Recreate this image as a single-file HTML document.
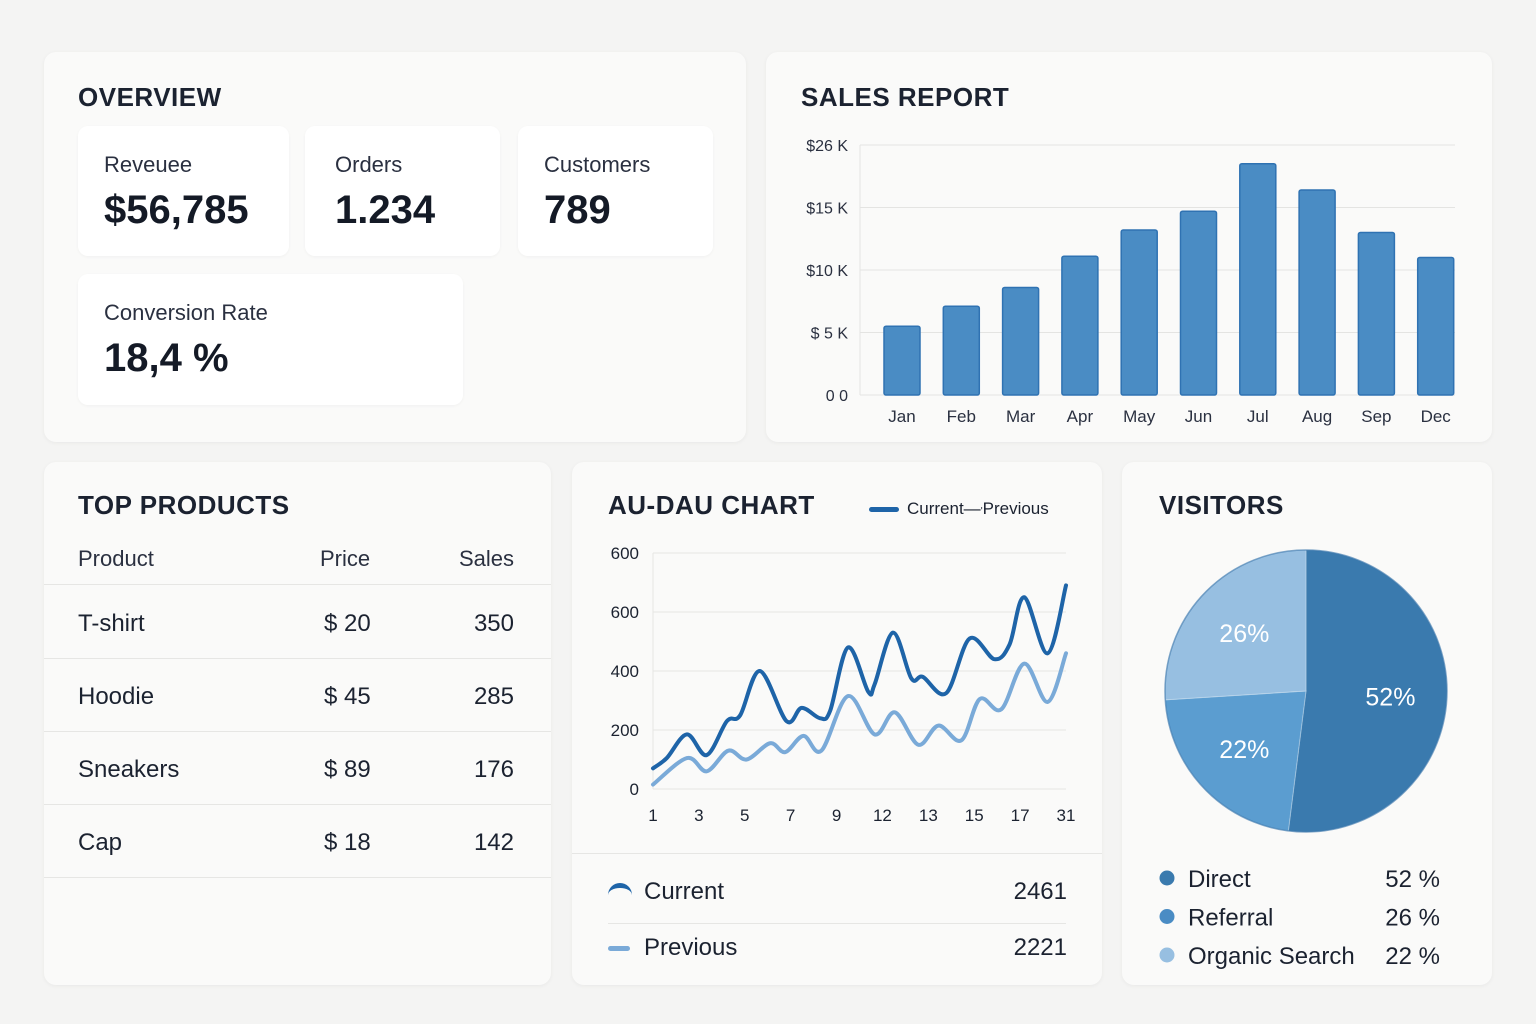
<!DOCTYPE html>
<html><head><meta charset="utf-8"><style>
body{margin:0;width:1536px;height:1024px;background:#f4f4f3;font-family:"Liberation Sans",sans-serif;color:#1b2230;position:relative;overflow:hidden}
.card{position:absolute;background:#fafaf9;border-radius:12px;box-shadow:0 1px 4px rgba(0,0,0,.05)}
.title{position:absolute;font-size:26px;font-weight:bold;letter-spacing:.5px;color:#1b2230}
.stat{position:absolute;background:#fff;border-radius:10px;box-shadow:0 1px 3px rgba(0,0,0,.04)}
.stat .l{position:absolute;left:26px;top:26px;font-size:22px;color:#2a3040}
.stat .v{position:absolute;left:26px;top:62px;font-size:40px;font-weight:bold;color:#141a26}
.row{position:absolute;left:0;right:0;font-size:24px;border-bottom:1px solid #e6e6e4;height:72px}
.row span{position:absolute;top:24px}
svg text{font-family:"Liberation Sans",sans-serif}
</style></head><body>
<div class="card" style="left:44px;top:52px;width:702px;height:390px">
 <div class="title" style="left:34px;top:30px">OVERVIEW</div>
 <div class="stat" style="left:34px;top:74px;width:211px;height:130px"><div class="l">Reveuee</div><div class="v">$56,785</div></div>
 <div class="stat" style="left:261px;top:74px;width:195px;height:130px"><div class="l" style="left:30px">Orders</div><div class="v" style="left:30px">1.234</div></div>
 <div class="stat" style="left:474px;top:74px;width:195px;height:130px"><div class="l">Customers</div><div class="v">789</div></div>
 <div class="stat" style="left:34px;top:222px;width:385px;height:131px"><div class="l">Conversion Rate</div><div class="v">18,4 %</div></div>
</div>
<div class="card" style="left:766px;top:52px;width:726px;height:390px">
 <div class="title" style="left:35px;top:30px">SALES REPORT</div>
</div>
<svg id="bar" style="position:absolute;left:0;top:0" width="1536" height="1024"></svg>

<div class="card" style="left:44px;top:462px;width:507px;height:523px">
 <div class="title" style="left:34px;top:28px">TOP PRODUCTS</div>
 <div class="row" style="top:72px;height:50px;font-size:22px;color:#2a3040"><span style="left:34px;top:12px">Product</span><span style="left:276px;top:12px">Price</span><span style="right:37px;top:12px">Sales</span></div>
 <div class="row" style="top:124px"><span style="left:34px">T-shirt</span><span style="left:280px">$ 20</span><span style="right:37px">350</span></div>
 <div class="row" style="top:197px"><span style="left:34px">Hoodie</span><span style="left:280px">$ 45</span><span style="right:37px">285</span></div>
 <div class="row" style="top:270px"><span style="left:34px">Sneakers</span><span style="left:280px">$ 89</span><span style="right:37px">176</span></div>
 <div class="row" style="top:343px"><span style="left:34px">Cap</span><span style="left:280px">$ 18</span><span style="right:37px">142</span></div>
</div>
<div class="card" style="left:572px;top:462px;width:530px;height:523px">
 <div class="title" style="left:36px;top:28px">AU-DAU CHART</div>
 <div style="position:absolute;left:297px;top:37px;font-size:17px"><span style="display:inline-block;width:30px;height:5px;border-radius:3px;background:#1e64a8;vertical-align:middle;margin-right:8px"></span>Current—<span style="font-size:10px">'</span>Previous</div>
 <div style="position:absolute;left:0;right:0;top:391px;border-top:1px solid #e6e6e4"></div>
 <div style="position:absolute;left:36px;top:416px;width:459px;font-size:24px"><span style="display:inline-block;width:24px;height:14px;border-top:5px solid #1e64a8;border-radius:12px 12px 0 0;vertical-align:middle;margin-right:12px"></span>Current<span style="float:right">2461</span></div>
 <div style="position:absolute;left:36px;right:36px;top:461px;border-top:1px solid #e6e6e4"></div>
 <div style="position:absolute;left:36px;top:472px;width:459px;font-size:24px"><span style="display:inline-block;width:22px;height:5px;border-radius:3px;background:#7aaad8;vertical-align:middle;margin-right:14px"></span>Previous<span style="float:right">2221</span></div>
</div>
<svg id="line" style="position:absolute;left:0;top:0" width="1536" height="1024"></svg>
<div class="card" style="left:1122px;top:462px;width:370px;height:523px">
 <div class="title" style="left:37px;top:28px">VISITORS</div>
</div>
<svg id="pie" style="position:absolute;left:0;top:0" width="1536" height="1024"></svg>
<script>
const NS='http://www.w3.org/2000/svg';
function mk(p,t,a){const e=document.createElementNS(NS,t);for(const k in a)e.setAttribute(k,a[k]);p.appendChild(e);return e;}
// Bar chart data
const months=['Jan','Feb','Mar','Apr','May','Jun','Jul','Aug','Sep','Dec'];
const sales=[5.5,7.1,8.6,11.1,13.2,14.7,18.5,16.4,13.0,11.0];
const barTicks=[0,5,10,15,20];
const barTickLabels=['0 0','$ 5 K','$10 K','$15 K','$26 K'];
// Line chart data (t = position in tick units)
const xTickLabels=['1','3','5','7','9','12','13','15','17','31'];
const yTicks=[0,200,400,600,800];
const yTickLabels=['0','200','400','600','600'];
const curT=[0,0.30,0.74,1.17,1.61,1.90,2.33,2.91,3.24,3.64,3.86,4.25,4.69,4.83,5.23,5.63,5.88,6.39,6.90,7.44,7.77,8.09,8.60,9.00];
const curV=[70,105,185,115,230,250,400,230,275,240,265,480,330,355,530,375,380,325,510,440,490,650,460,690];
const prevT=[0,0.74,1.17,1.64,2.04,2.55,2.88,3.28,3.67,4.25,4.83,5.27,5.78,6.22,6.72,7.12,7.59,8.09,8.60,9.00];
const prevV=[15,105,60,130,100,155,125,180,130,315,185,260,150,215,165,305,270,425,295,460];
// Pie data
const pieLabels=['Direct','Referral','Organic Search'];
const pieVals=[52,22,26];
const legendVals=[52,26,22];

// bar chart
(function(){
const s=document.getElementById('bar');
const x0=860,x1=1455,y0=395,y1=145;
const y=v=>y0-(v/20)*(y0-y1);
barTicks.forEach((t,i)=>{
 const g=mk(s,'line',{x1:x0,x2:x1,y1:y(t),y2:y(t),stroke:'#e4e4e2','stroke-width':1});
 
 
 const tx=mk(s,'text',{x:848,y:y(t)+6,'text-anchor':'end','font-size':16,fill:'#2a3040'});tx.textContent=barTickLabels[i];
 
 
});
mk(s,'line',{x1:x0,x2:x0,y1:y1,y2:y0,stroke:'#e4e4e2'});
const step=59.3;
months.forEach((m,i)=>{
 const cx=x0+42+step*i;
 const r=mk(s,'rect',{x:cx-18,y:y(sales[i]),width:36,height:y0-y(sales[i]),fill:'#4a8cc4',stroke:'#2f72b2','stroke-width':1.5,rx:2});
 
 
 const t=mk(s,'text',{x:cx,y:422,'text-anchor':'middle','font-size':17,fill:'#2a3040'});t.textContent=m;
 
 
});
})();
// line chart
(function(){
const s=document.getElementById('line');
const x0=653,x1=1066,y0=789,y1=553;
const x=t=>x0+t/9*(x1-x0);
const y=v=>y0-v/800*(y0-y1);
yTicks.forEach((t,i)=>{
 const g=mk(s,'line',{x1:x0,x2:x1,y1:y(t),y2:y(t),stroke:'#e6e6e4'});
 
 
 const tx=mk(s,'text',{x:639,y:y(t)+6,'text-anchor':'end','font-size':17,fill:'#1b2230'});tx.textContent=yTickLabels[i];
 
 
});
mk(s,'line',{x1:x0,x2:x0,y1:y1,y2:y0,stroke:'#e6e6e4'});
xTickLabels.forEach((l,i)=>{
 const tx=mk(s,'text',{x:x(i),y:821,'text-anchor':'middle','font-size':17,fill:'#1b2230'});tx.textContent=l;
 
 
});
function path(T,V){
 const P=T.map((t,i)=>[x(t),y(V[i])]);
 let d='M'+P[0][0]+','+P[0][1];
 for(let i=0;i<P.length-1;i++){
  const p0=P[Math.max(0,i-1)],p1=P[i],p2=P[i+1],p3=P[Math.min(P.length-1,i+2)];
  const c1=[p1[0]+(p2[0]-p0[0])/6,p1[1]+(p2[1]-p0[1])/6],c2=[p2[0]-(p3[0]-p1[0])/6,p2[1]-(p3[1]-p1[1])/6];
  d+=` C${c1[0]},${c1[1]} ${c2[0]},${c2[1]} ${p2[0]},${p2[1]}`;
 }
 return d;
}
const pv=mk(s,'path',{d:path(prevT,prevV),fill:'none',stroke:'#7aaad8','stroke-width':4,'stroke-linecap':'round'});


const cu=mk(s,'path',{d:path(curT,curV),fill:'none',stroke:'#1e64a8','stroke-width':4,'stroke-linecap':'round'});


})();
// pie
(function(){
const s=document.getElementById('pie');
const cx=1306,cy=691,r=141;
const cols=['#3a7aae','#5b9dd0','#97bfe1'];
const tot=pieVals.reduce((a,b)=>a+b,0);
let a=0;
pieVals.forEach((v,i)=>{
 const a0=a,a1=a+v/tot*2*Math.PI;a=a1;
 const p=t=>[cx+r*Math.sin(t),cy-r*Math.cos(t)];
 const s0=p(a0),s1=p(a1);
 const sl=mk(s,'path',{d:`M${cx},${cy} L${s0[0]},${s0[1]} A${r},${r} 0 ${a1-a0>Math.PI?1:0} 1 ${s1[0]},${s1[1]} Z`,fill:cols[i],stroke:'#ffffff','stroke-opacity':0.3,'stroke-width':1});
 
 
 const m=(a0+a1)/2,rr=r*0.6;
 const t=mk(s,'text',{x:cx+rr*Math.sin(m),y:cy-rr*Math.cos(m)+9,'text-anchor':'middle','font-size':25,fill:'#fff'});t.textContent=v+'%';
 
 
});
mk(s,'circle',{cx:cx,cy:cy,r:r,fill:'none',stroke:'#2f6ea6','stroke-width':1.5,'stroke-opacity':0.6});
const lc=['#3a7aae','#4a8cc4','#97bfe1'];
pieLabels.forEach((l,i)=>{
 const yy=878+i*38.5;
 const c=mk(s,'circle',{cx:1167,cy:yy,r:7.5,fill:lc[i]});
 
 
 const t=mk(s,'text',{x:1188,y:yy+9,'font-size':24,fill:'#1b2230'});t.textContent=l;
 
 
 const t2=mk(s,'text',{x:1440,y:yy+9,'text-anchor':'end','font-size':24,fill:'#1b2230'});t2.textContent=legendVals[i]+' %';
 
 
});
})();
</script>
</body></html>
